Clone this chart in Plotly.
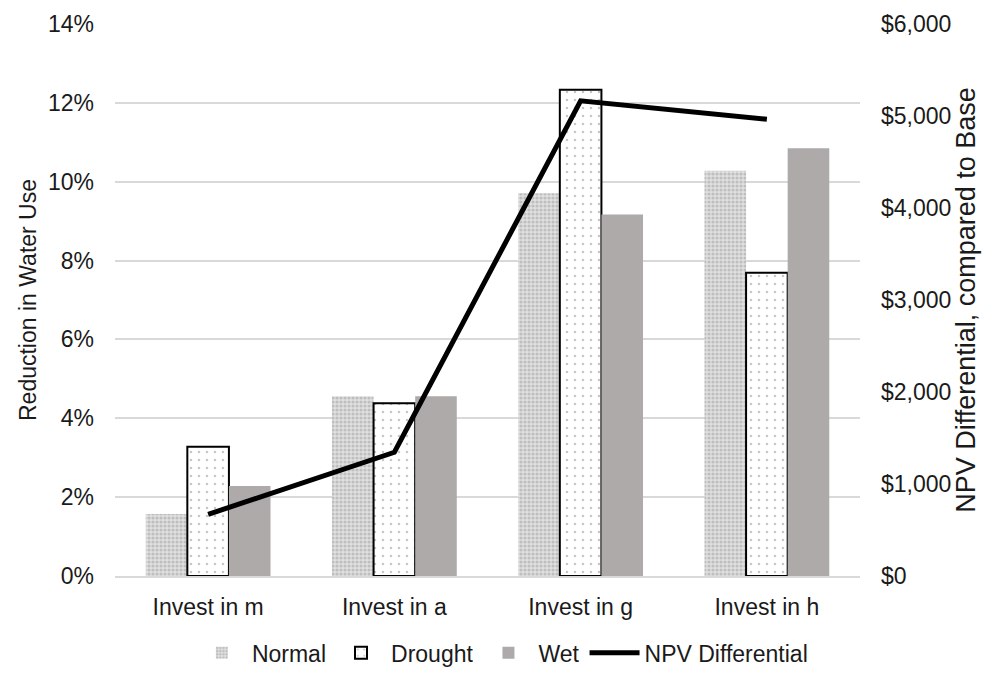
import plotly.graph_objects as go

categories = ["Invest in m", "Invest in a", "Invest in g", "Invest in h"]
normal = [0.0157, 0.0456, 0.0971, 0.1028]
drought = [0.0328, 0.0438, 0.1233, 0.0769]
wet = [0.0228, 0.0456, 0.0917, 0.1085]
npv = [670, 1345, 5165, 4965]

font_family = "Liberation Sans, Arial, sans-serif"
text_color = "#1a1a1a"

fig = go.Figure()
fig.add_trace(go.Bar(
    name="Normal", x=categories, y=normal,
    marker=dict(color="#d0d0d0", line=dict(width=0),
                pattern=dict(shape=".", fgcolor="#9c9c9c", bgcolor="#e0e0e0",
                             size=4, solidity=0.5)),
))
fig.add_trace(go.Bar(
    name="Drought", x=categories, y=drought,
    marker=dict(color="white", line=dict(width=2, color="black"),
                pattern=dict(shape=".", fgcolor="#8c8c8c", bgcolor="white",
                             size=8, solidity=0.08)),
))
fig.add_trace(go.Bar(
    name="Wet", x=categories, y=wet,
    marker=dict(color="#aeaaaa", line=dict(width=0)),
))
fig.add_trace(go.Scatter(
    name="NPV Differential", x=categories, y=npv, yaxis="y2",
    mode="lines", line=dict(color="black", width=5),
))

fig.update_layout(
    width=987, height=665,
    margin=dict(l=107, r=135, t=16, b=97, autoexpand=False),
    paper_bgcolor="white", plot_bgcolor="white",
    font=dict(family=font_family, size=23, color=text_color),
    barmode="group", bargap=0.33, bargroupgap=0,
    showlegend=True,
    legend=dict(orientation="h", x=0.52, xanchor="center", y=-0.1, yanchor="top",
                font=dict(size=23, color=text_color), itemwidth=50,
                traceorder="normal"),
    xaxis=dict(type="category", showgrid=False, showline=True, linecolor="#d9d9d9",
               linewidth=1.5, ticks="", ticklabelstandoff=10,
               tickfont=dict(size=23, color=text_color)),
    yaxis=dict(range=[0, 0.14], dtick=0.02, tickformat=".0%", showgrid=True,
               gridcolor="#d9d9d9", gridwidth=1.5, zeroline=False, ticks="",
               ticklabelstandoff=20,
               title=dict(text="Reduction in Water Use",
                          font=dict(size=23, color=text_color),
                          standoff=4),
               tickfont=dict(size=23, color=text_color)),
    yaxis2=dict(range=[0, 6000], dtick=1000, tickprefix="$", tickformat=",",
                overlaying="y", side="right", showgrid=False, zeroline=False, ticks="",
                ticklabelstandoff=20,
                title=dict(text="NPV Differential, compared to Base",
                           font=dict(size=27, color=text_color),
                           standoff=0),
                tickfont=dict(size=23, color=text_color)),
)

fig.write_html("out.html")
